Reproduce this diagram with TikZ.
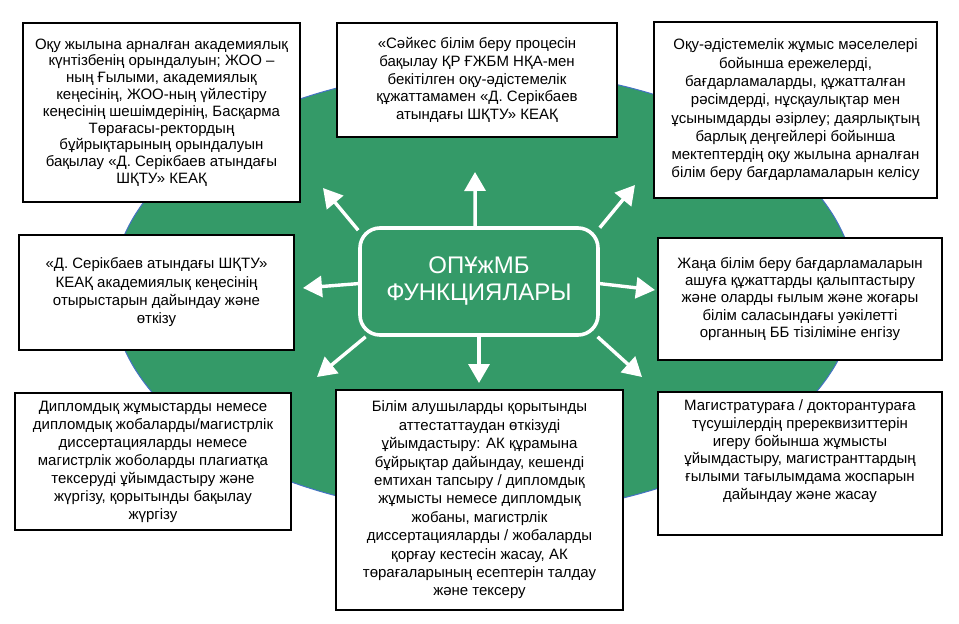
\documentclass[tikz,border=0pt]{standalone}
\usepackage{fontspec}
\setmainfont{Liberation Sans}
\usetikzlibrary{arrows.meta,shapes.geometric}
\definecolor{ogreen}{RGB}{52,154,104}
\definecolor{oblue}{RGB}{68,114,196}
\tikzset{
  txtbox/.style={draw=black, line width=1.2pt, fill=white, inner sep=0pt, align=center,
                 font=\fontsize{15}{#1}\selectfont},
  warrow/.style={draw=white, line width=3.4pt, -{Triangle[width=21pt,length=19pt]}},
  hub/.style={draw=white, line width=3.6pt, fill=ogreen, rounded corners=20pt, text=white,
              align=center, font=\fontsize{24}{27}\selectfont},
  oval/.style={ellipse, fill=ogreen, draw=oblue, line width=1pt, inner sep=0pt},
}
\begin{document}
\begin{tikzpicture}[x=1pt,y=-1pt]
\useasboundingbox (0,0) rectangle (959,624);
\node[oval, minimum width=744pt, minimum height=444pt] (bg) at (484,292) {};

\node[txtbox=16.8, minimum width=277pt, minimum height=179pt] (tl) at (161.5,112.5)
 {Оқу жылына арналған академиялық\\күнтізбенің орындалуын; ЖОО –\\ның Ғылыми, академиялық\\кеңесінің, ЖОО-ның үйлестіру\\кеңесінің шешімдерінің, Басқарма\\Төрағасы-ректордың\\бұйрықтарының орындалуын\\бақылау «Д. Серікбаев атындағы\\ШҚТУ» КЕАҚ};
\node[txtbox=17.9, minimum width=280pt, minimum height=114pt] (tc) at (477,80)
 {«Сәйкес білім беру процесін\\бақылау ҚР ҒЖБМ НҚА-мен\\бекітілген оқу-әдістемелік\\құжаттамамен «Д. Серікбаев\\атындағы ШҚТУ» КЕАҚ};
\node[txtbox=18.3, minimum width=283pt, minimum height=176pt] (tr) at (795.5,110)
 {Оқу-әдістемелік жұмыс мәселелері\\бойынша ережелерді,\\бағдарламаларды, құжатталған\\рәсімдерді, нұсқаулықтар мен\\ұсынымдарды әзірлеу; даярлықтың\\барлық деңгейлері бойынша\\мектептердің оқу жылына арналған\\білім беру бағдарламаларын келісу};
\node[txtbox=18.3, minimum width=275pt, minimum height=115pt] (ml) at (156.5,292.5)
 {«Д. Серікбаев атындағы ШҚТУ»\\КЕАҚ академиялық кеңесінің\\отырыстарын дайындау және\\өткізу};
\node[txtbox=17.2, minimum width=284pt, minimum height=122pt] (mr) at (800,299)
 {Жаңа білім беру бағдарламаларын\\ашуға құжаттарды қалыптастыру\\және оларды ғылым және жоғары\\білім саласындағы уәкілетті\\органның ББ тізіліміне енгізу};
\node[txtbox=18, minimum width=276pt, minimum height=137pt] (bl) at (153,461.5)
 {Дипломдық жұмыстарды немесе\\дипломдық жобаларды/магистрлік\\диссертацияларды немесе\\магистрлік жоболарды плагиатқа\\тексеруді ұйымдастыру және\\жүргізу, қорытынды бақылау\\жүргізу};
\node[txtbox=18.4, minimum width=287pt, minimum height=220pt] (bc) at (479.5,500)
 {Білім алушыларды қорытынды\\аттестаттаудан өткізуді\\ұйымдастыру: АК құрамына\\бұйрықтар дайындау, кешенді\\емтихан тапсыру / дипломдық\\жұмысты немесе дипломдық\\жобаны, магистрлік\\диссертацияларды / жобаларды\\қорғау кестесін жасау, АК\\төрағаларының есептерін талдау\\және тексеру};
\node[txtbox=17.7, minimum width=284pt, minimum height=143pt] (br) at (800,463.5)
 {Магистратураға / докторантураға\\түсушілердің пререквизиттерін\\игеру бойынша жұмысты\\ұйымдастыру, магистранттардың\\ғылыми тағылымдама жоспарын\\дайындау және жасау\\[10pt]};

\node[hub, minimum width=238pt, minimum height=107pt] (c) at (479,281.5) {ОПҰжМБ\\ФУНКЦИЯЛАРЫ};

\coordinate (tU) at (475,172);
\coordinate (tD) at (479,383);
\coordinate (tL) at (303,288);
\coordinate (tR) at (655,290);
\coordinate (tUL) at (323,188);
\coordinate (tUR) at (635,185);
\coordinate (tLL) at (317,377);
\coordinate (tLR) at (642,377);

\draw[warrow] (c.94) -- (tU);
\draw[warrow] (c.270) -- (tD);
\draw[warrow] (c.181) -- (tL);
\draw[warrow] (c.-1) -- (tR);
\draw[warrow] (c.157) -- (tUL);
\draw[warrow] (c.24) -- (tUR);
\draw[warrow] (c.206) -- (tLL);
\draw[warrow] (c.335) -- (tLR);
\end{tikzpicture}
\end{document}
